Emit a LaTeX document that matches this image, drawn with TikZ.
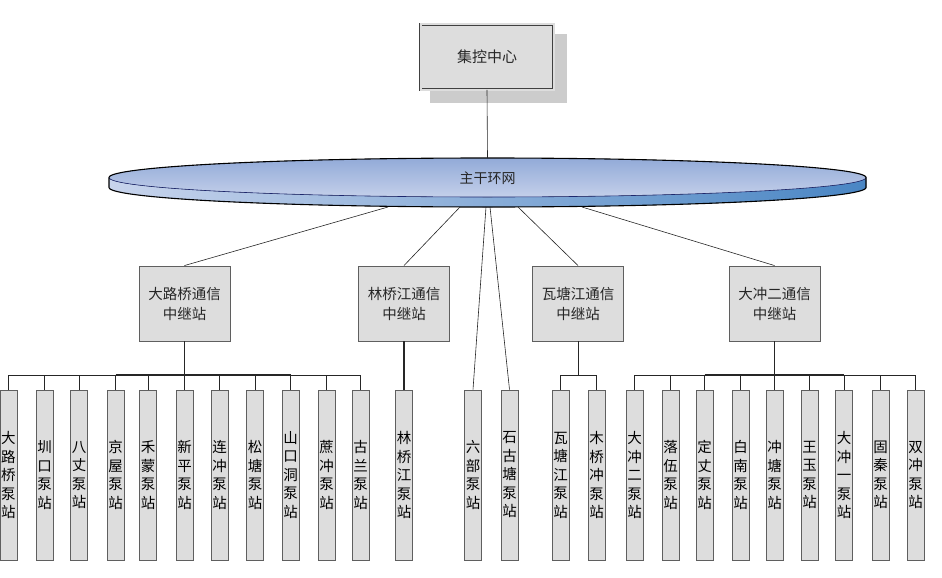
\documentclass[tikz,border=0pt]{standalone}
\usepackage{fontspec}
\setmainfont{Noto Sans CJK SC}
\usetikzlibrary{calc}
\definecolor{boxfill}{RGB}{221,221,221}
\definecolor{boxline}{RGB}{95,95,95}
\definecolor{shadowc}{RGB}{204,204,204}
\definecolor{topA}{RGB}{146,170,216}
\definecolor{topB}{RGB}{196,208,234}
\definecolor{sideL}{RGB}{200,212,236}
\definecolor{sideR}{RGB}{74,134,196}
\definecolor{rimline}{RGB}{30,40,110}
\newcommand\stnfont{\fontsize{14.5}{18.5}\selectfont}
\newcommand\relfont{\fontsize{14.5}{20}\selectfont}
\begin{document}
\begin{tikzpicture}[x=1pt,y=-1pt,
  stn/.style={draw=boxline, fill=boxfill, line width=1pt, minimum width=17pt,
    minimum height=170pt, inner sep=0pt, font=\stnfont, align=center, text=black},
  relay/.style={draw=boxline, fill=boxfill, line width=0.9pt, minimum width=91pt,
    minimum height=75pt, inner sep=0pt, font=\relfont, align=center, text=black!85},
  link/.style={line width=0.6pt, draw=black!85},
  thickbus/.style={line width=1.5pt, draw=black!85}]
\useasboundingbox (0,0) rectangle (942,578);

% central control box with shadow
\fill[shadowc] (430,34) rectangle (567,103);
\node[draw=black!75, double=boxfill, double distance=2pt, line width=0.8pt,
  fill=boxfill, minimum width=133pt, minimum height=65pt, inner sep=0pt,
  font=\fontsize{15}{18}\selectfont, text=black!85] (top) at (487,57) {集控中心};

% ring network disk
\coordinate (ringtop) at (487.5,158);
\fill[left color=sideL, right color=sideR]
  (109,177.5) -- (109,187.5)
  arc[start angle=180, end angle=360, x radius=378.5pt, y radius=19.5pt]
  -- (866,177.5)
  arc[start angle=360, end angle=180, x radius=378.5pt, y radius=19.5pt] -- cycle;
\fill[top color=topA, bottom color=topB] (487.5,177.5) ellipse[x radius=378.5pt, y radius=19.5pt];
\draw[rimline, line width=0.6pt] (109,177.5)
  arc[start angle=180, end angle=360, x radius=378.5pt, y radius=19.5pt];
\draw[black, line width=1.1pt] (109,187.5) -- (109,177.5)
  arc[start angle=180, end angle=0, x radius=378.5pt, y radius=19.5pt]
  -- (866,187.5)
  arc[start angle=360, end angle=180, x radius=378.5pt, y radius=19.5pt];
\node[font=\fontsize{14}{16}\selectfont, text=black!85] (ring) at (487.5,178) {主干环网};

\draw[link] (top.south) -- (ringtop);

% connection points on the ring
\coordinate (r1) at (388,207);
\coordinate (r2) at (460,207);
\coordinate (r3) at (486,207);
\coordinate (r4) at (490,207);
\coordinate (r5) at (518,207);
\coordinate (r6) at (582,207);

% relay stations
\node[relay] (rel1) at (184.5,303.5) {大路桥通信\\中继站};
\node[relay] (rel2) at (404,303.5) {林桥江通信\\中继站};
\node[relay] (rel3) at (578,303.5) {瓦塘江通信\\中继站};
\node[relay] (rel4) at (774.5,303.5) {大冲二通信\\中继站};

\draw[link] (r1) -- (rel1.north);
\draw[link] (r2) -- (rel2.north);
\draw[link] (r5) -- (rel3.north);
\draw[link] (r6) -- (rel4.north);

% pump stations
\foreach \n/\x/\t in {a1/8.5/大\\路\\桥\\泵\\站, a2/44.5/圳\\口\\泵\\站, a3/79/八\\丈\\泵\\站,
  a4/115.5/京\\屋\\泵\\站, a5/148/禾\\蒙\\泵\\站, a6/184.5/新\\平\\泵\\站,
  a7/219.5/连\\冲\\泵\\站, a8/255/松\\塘\\泵\\站, a9/290.5/山\\口\\洞\\泵\\站,
  a10/326.5/蔗\\冲\\泵\\站, a11/360.5/古\\兰\\泵\\站,
  b1/404/林\\桥\\江\\泵\\站, c1/473/六\\部\\泵\\站, c2/509.5/石\\古\\塘\\泵\\站,
  d1/560.5/瓦\\塘\\江\\泵\\站, d2/596.5/木\\桥\\冲\\泵\\站,
  e1/634.5/大\\冲\\二\\泵\\站, e2/670.5/落\\伍\\泵\\站, e3/704.5/定\\丈\\泵\\站,
  e4/740.5/白\\南\\泵\\站, e5/774.5/冲\\塘\\泵\\站, e6/809.5/王\\玉\\泵\\站,
  e7/844/大\\冲\\一\\泵\\站, e8/880.5/固\\秦\\泵\\站, e9/915.5/双\\冲\\泵\\站}
  { \node[stn] (\n) at (\x,475) {\t}; }

% bus junctions
\coordinate (j1) at (184.5,375);
\coordinate (j3) at (578,375);
\coordinate (j4) at (774.5,375);

\draw[thickbus] (rel1.south) -- (j1);
\foreach \n in {a1,a2,a3,a4,a5,a6,a7,a8,a9,a10,a11}
  { \draw[link] (\n.north) |- (j1); }
\draw[thickbus] (a4.north |- j1) -- (a9.north |- j1);

\draw[thickbus] (rel2.south) -- (b1.north);

\draw[link] (r3) -- (c1.north);
\draw[link] (r4) -- (c2.north);

\draw[link] (rel3.south) -- (j3);
\foreach \n in {d1,d2}
  { \draw[link] (\n.north) |- (j3); }

\draw[thickbus] (rel4.south) -- (j4);
\foreach \n in {e1,e2,e3,e4,e5,e6,e7,e8,e9}
  { \draw[link] (\n.north) |- (j4); }
\draw[thickbus] (e3.north |- j4) -- (e7.north |- j4);
\end{tikzpicture}
\end{document}
